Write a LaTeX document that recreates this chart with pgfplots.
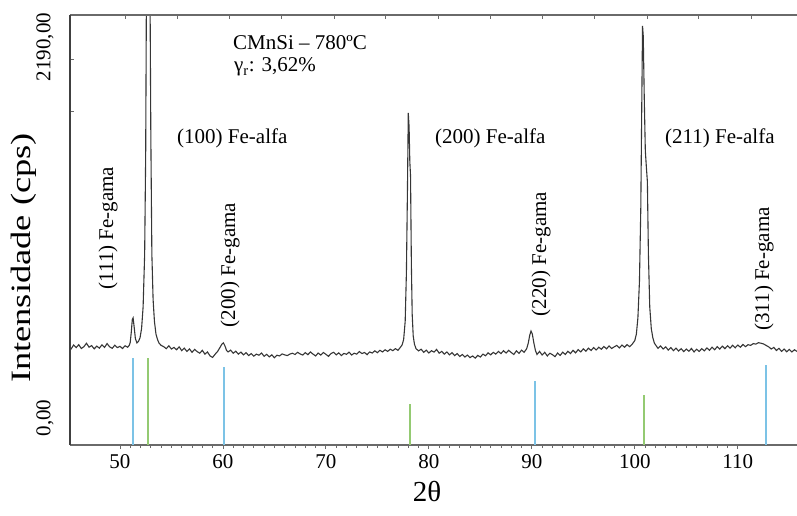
\documentclass[border=0pt]{standalone}
\usepackage{pgfplots}
\pgfplotsset{compat=1.18}
\usepackage{fontspec}
\setmainfont{Liberation Serif}
\definecolor{curve}{HTML}{363636}
\definecolor{refblue}{HTML}{7CC3E6}
\definecolor{refgreen}{HTML}{94CA72}
\definecolor{axgray}{HTML}{6A6A6A}
\newcommand{\fs}[1]{\fontsize{#1}{#1}\selectfont}
\begin{document}
\begin{tikzpicture}
\useasboundingbox (-70pt,-71pt) rectangle (727pt,445pt);
\begin{axis}[
  name=ax, at={(0pt,0pt)}, anchor=south west,
  scale only axis, width=727pt, height=430pt,
  xmin=45.15, xmax=115.75, ymin=0, ymax=2366,
  axis x line=bottom, axis y line=left,
  axis line style={-},
  x axis line style={draw=axgray, line width=1.2pt},
  y axis line style={draw=black!75, line width=1.3pt},
  xtick={50,60,...,110}, minor x tick num=9,
  ytick=\empty,
  tick align=outside,
  major tick length=4pt, minor tick length=3pt,
  x tick style={draw=axgray, line width=0.8pt},
  minor x tick style={draw=axgray, line width=0.8pt},
  xticklabel style={font=\fs{21}, yshift=-2pt},
  /pgf/number format/assume math mode=true,
  clip=true,
]
\addplot[ycomb, refblue, line width=2pt, mark=none] coordinates {(51.26,479)};
\addplot[ycomb, refblue, line width=2pt, mark=none] coordinates {(60.10,429)};
\addplot[ycomb, refblue, line width=2pt, mark=none] coordinates {(90.30,352)};
\addplot[ycomb, refblue, line width=2pt, mark=none] coordinates {(112.75,440)};
\addplot[ycomb, refgreen, line width=2pt, mark=none] coordinates {(52.75,479)};
\addplot[ycomb, refgreen, line width=2pt, mark=none] coordinates {(78.20,226)};
\addplot[ycomb, refgreen, line width=2pt, mark=none] coordinates {(100.90,275)};
\addplot[curve, line width=1.1pt, mark=none] coordinates {
(45.00,545) (45.25,528) (45.50,550) (45.75,536) (46.00,552) (46.25,531) (46.50,541) (46.75,560)
(47.00,538) (47.25,547) (47.50,529) (47.75,544) (48.00,533) (48.25,551) (48.50,537) (48.75,558)
(49.00,540) (49.25,532) (49.50,549) (49.75,536) (50.00,543) (50.25,531) (50.50,546) (50.75,538)
(50.90,548) (51.00,565) (51.10,620) (51.20,690) (51.28,699) (51.38,650) (51.50,585) (51.65,562) (51.80,570)
(51.95,590) (52.10,640) (52.25,760) (52.40,1050) (52.50,1600) (52.58,2600) (52.65,3000) (52.85,3000)
(52.92,2500) (53.00,1700) (53.10,1050) (53.22,800) (53.35,680) (53.50,610) (53.65,580) (53.80,560)
(54.00,548) (54.25,541) (54.50,530) (54.75,546) (55.00,528) (55.25,537) (55.50,524) (55.75,540)
(56.00,519) (56.25,533) (56.50,515) (56.75,529) (57.00,510) (57.25,526) (57.50,514) (57.75,505)
(58.00,521) (58.25,500) (58.50,512) (58.75,490) (59.00,482) (59.25,500) (59.50,516) (59.75,540)
(59.90,555) (60.05,562) (60.20,545) (60.35,520) (60.50,512) (60.75,522) (61.00,505) (61.25,516)
(61.50,500) (61.75,511) (62.00,496) (62.25,508) (62.50,492) (62.75,503) (63.00,489) (63.25,500)
(63.50,494) (63.75,506) (64.00,488) (64.25,499) (64.50,485) (64.75,496) (65.00,480) (65.25,494)
(65.50,490) (65.75,501) (66.00,496) (66.25,492) (66.50,500) (66.75,505) (67.00,498) (67.25,510)
(67.50,501) (67.75,495) (68.00,508) (68.25,497) (68.50,512) (68.75,500) (69.00,490) (69.25,506)
(69.50,495) (69.75,509) (70.00,499) (70.25,488) (70.50,503) (70.75,510) (71.00,496) (71.25,507)
(71.50,492) (71.75,504) (72.00,499) (72.25,511) (72.50,495) (72.75,505) (73.00,500) (73.25,514)
(73.50,503) (73.75,509) (74.00,497) (74.25,512) (74.50,506) (74.75,518) (75.00,508) (75.25,521)
(75.50,512) (75.75,524) (76.00,515) (76.25,527) (76.50,519) (76.75,530) (77.00,521) (77.20,535)
(77.40,550) (77.55,580) (77.70,680) (77.82,950) (77.92,1400) (78.00,1827) (78.08,1750) (78.15,1560)
(78.22,1480) (78.30,1000) (78.38,720) (78.48,600) (78.60,555) (78.75,530) (79.00,518) (79.25,527)
(79.50,510) (79.75,522) (80.00,506) (80.25,519) (80.50,511) (80.75,526) (81.00,505) (81.25,515)
(81.50,500) (81.75,512) (82.00,496) (82.25,508) (82.50,492) (82.75,503) (83.00,487) (83.25,498)
(83.50,484) (83.75,495) (84.00,481) (84.25,490) (84.50,478) (84.75,493) (85.00,484) (85.25,500)
(85.50,491) (85.75,507) (86.00,496) (86.25,510) (86.50,500) (86.75,515) (87.00,503) (87.25,519)
(87.50,506) (87.75,521) (88.00,509) (88.25,498) (88.50,518) (88.75,504) (89.00,522) (89.25,510)
(89.50,530) (89.65,560) (89.80,605) (89.92,627) (90.05,610) (90.20,560) (90.35,520) (90.50,498)
(90.75,515) (91.00,495) (91.25,510) (91.50,490) (91.75,505) (92.00,497) (92.25,486) (92.50,506)
(92.75,493) (93.00,511) (93.25,498) (93.50,516) (93.75,503) (94.00,521) (94.25,507) (94.50,525)
(94.75,512) (95.00,529) (95.25,516) (95.50,533) (95.75,520) (96.00,536) (96.25,523) (96.50,538)
(96.75,527) (97.00,542) (97.25,529) (97.50,545) (97.75,531) (98.00,540) (98.25,548) (98.50,534)
(98.75,550) (99.00,538) (99.25,552) (99.50,541) (99.75,555) (100.00,575) (100.15,610) (100.30,700)
(100.45,900) (100.58,1300) (100.68,1900) (100.75,2306) (100.82,2250) (100.92,1900) (101.02,1620) (101.12,1530)
(101.22,1450) (101.32,1050) (101.45,760) (101.60,640) (101.75,590) (101.90,560) (102.05,548) (102.25,532)
(102.50,545) (102.75,528) (103.00,540) (103.25,522) (103.50,536) (103.75,519) (104.00,533) (104.25,517)
(104.50,530) (104.75,514) (105.00,528) (105.25,516) (105.50,531) (105.75,512) (106.00,527) (106.25,515)
(106.50,530) (106.75,518) (107.00,534) (107.25,521) (107.50,538) (107.75,524) (108.00,541) (108.25,528)
(108.50,544) (108.75,530) (109.00,546) (109.25,533) (109.50,549) (109.75,535) (110.00,550) (110.25,538)
(110.50,553) (110.75,541) (111.00,552) (111.25,548) (111.50,558) (111.75,555) (112.00,563) (112.25,560)
(112.50,556) (112.75,548) (113.00,540) (113.25,528) (113.50,537) (113.75,520) (114.00,532) (114.25,515)
(114.50,528) (114.75,513) (115.00,526) (115.25,512) (115.50,524) (115.75,515) (116.00,522)
};
\end{axis}
\begin{axis}[
  at={(0pt,0pt)}, anchor=south west,
  scale only axis, width=727pt, height=430pt,
  xmin=45.15, xmax=115.75, ymin=0, ymax=2366,
  axis x line=top, axis y line=left,
  axis line style={-},
  x axis line style={draw=axgray, line width=1.2pt},
  y axis line style={draw=black!75, line width=1.3pt},
  xtick={50.5,55.6,60.6,65.7,70.8,75.8,80.9,86.0,91.0,96.1,101.2,106.2,111.3},
  ytick={1833,2119},
  xticklabels={}, yticklabels={},
  tick align=inside, major tick length=4pt,
  tick style={draw=axgray, line width=0.9pt},
]
\end{axis}
% axis labels and annotations
\node[rotate=90, font=\fs{28}] at (-46pt,187pt) {\scalebox{1.3}[1]{Intensidade (cps)}};
\node[font=\fs{29}] at (357pt,-47pt) {2θ};
\node[rotate=90, font=\fs{21}] at (-25pt,27pt) {0,00};
\node[rotate=90, font=\fs{21}] at (-25pt,398pt) {2190,00};
\node[anchor=base west, font=\fs{21}, inner sep=0pt] at (163pt,395pt) {CMnSi – 780ºC};
\node[anchor=base west, font=\fs{21}, inner sep=0pt] at (164pt,373pt) {γ\textsubscript{r}: 3,62\%};
\node[anchor=base west, font=\fs{21}, inner sep=0pt] at (107pt,301pt) {(100) Fe-alfa};
\node[anchor=base west, font=\fs{21}, inner sep=0pt] at (365pt,301pt) {(200) Fe-alfa};
\node[anchor=base west, font=\fs{21}, inner sep=0pt] at (595pt,301pt) {(211) Fe-alfa};
\node[rotate=90, font=\fs{21}, inner sep=0pt] at (38pt,217pt) {(111) Fe-gama};
\node[rotate=90, font=\fs{21}, inner sep=0pt] at (160pt,180pt) {(200) Fe-gama};
\node[rotate=90, font=\fs{21}, inner sep=0pt] at (471pt,191pt) {(220) Fe-gama};
\node[rotate=90, font=\fs{21}, inner sep=0pt] at (694pt,176pt) {(311) Fe-gama};
\end{tikzpicture}
\end{document}
